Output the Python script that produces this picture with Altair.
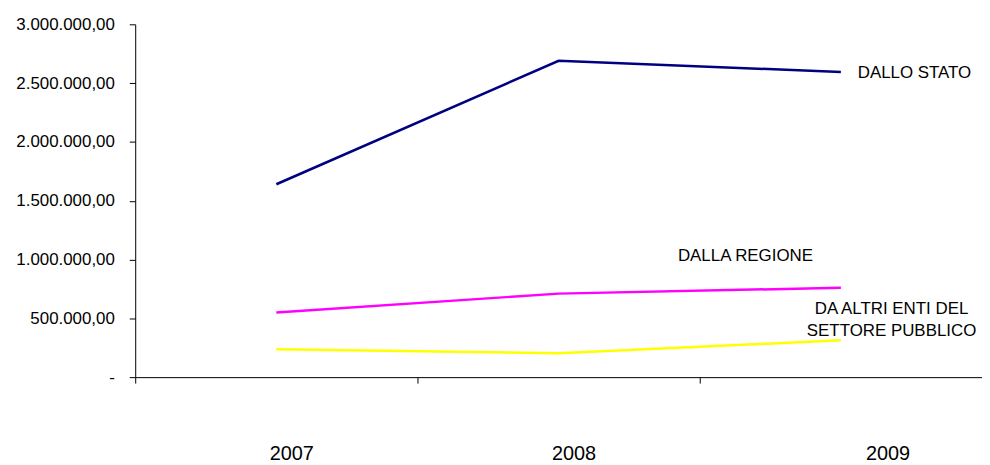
import altair as alt
import pandas as pd

years = ["2007", "2008", "2009"]
series = ["DALLO STATO", "DALLA REGIONE", "DA ALTRI ENTI DEL SETTORE PUBBLICO"]
label_texts = ["DALLO STATO", "DALLA REGIONE", "DA ALTRI ENTI DEL\nSETTORE PUBBLICO"]
stato = [1640000, 2690000, 2595000]
regione = [550000, 710000, 760000]
altri = [237000, 203000, 313000]
colors = ["#000080", "#FF00FF", "#FFFF00"]
y_ticks = [0, 500000, 1000000, 1500000, 2000000, 2500000, 3000000]

rows = []
for name, lab, vals in zip(series, label_texts, [stato, regione, altri]):
    for yr, v in zip(years, vals):
        rows.append({"anno": yr, "serie": name, "etichetta": lab, "valore": v})
df = pd.DataFrame(rows)

FONT = "Liberation Sans"

label_expr = (
    "datum.value == 0 ? '-\u00a0\u00a0\u00a0\u00a0\u00a0' : "
    "replace(replace(replace(format(datum.value, ',.2f'), regexp(',', 'g'), '#'), "
    "regexp('\\\\.', 'g'), ','), regexp('#', 'g'), '.')"
)

x_enc = alt.X(
    "anno:N",
    scale=alt.Scale(type="band", domain=years, paddingInner=0, paddingOuter=0),
    bandPosition=0.5,
    axis=alt.Axis(
        title=None,
        labelAngle=0,
        tickBand="extent",
        tickSize=6,
        tickColor="black",
        domainColor="black",
        labelFont=FONT,
        labelFontSize=20,
        labelColor="black",
        labelPadding=61,
        labelOffset={"condition": {"test": "datum.value == '2009'", "value": 47}, "value": 15},
        grid=False,
    ),
)

y_enc = alt.Y(
    "valore:Q",
    scale=alt.Scale(domain=[0, 3000000], nice=False),
    axis=alt.Axis(
        title=None,
        values=y_ticks,
        labelExpr=label_expr,
        tickSize=6,
        tickColor="black",
        domainColor="black",
        labelFont=FONT,
        labelFontSize=17,
        labelColor="black",
        labelPadding=15,
        grid=False,
    ),
)

base = alt.Chart(df)

lines = base.mark_line(strokeWidth=2.5).encode(
    x=x_enc,
    y=y_enc,
    color=alt.Color("serie:N", scale=alt.Scale(domain=series, range=colors), legend=None),
    detail="serie:N",
)

def label_layer(name, dx, dy, align):
    return (
        base.transform_filter((alt.datum.serie == name) & (alt.datum.anno == "2009"))
        .mark_text(
            font=FONT,
            fontSize=17,
            color="black",
            align=align,
            baseline="middle",
            dx=dx,
            dy=dy,
            lineBreak="\n",
            lineHeight=22,
        )
        .encode(x=alt.X("anno:N", bandPosition=0.5), y="valore:Q", text="etichetta:N")
    )

chart = (
    alt.layer(
        lines,
        label_layer(series[0], 17, 1, "left"),
        label_layer(series[1], -96, -32, "center"),
        label_layer(series[2], 51, -31, "center"),
    )
    .properties(
        width=852,
        height=355,
        padding={"left": 128, "top": 15, "right": 0, "bottom": 87},
        autosize=alt.AutoSizeParams(type="none"),
    )
    .configure_view(stroke=None)
)

chart.save("out.html", embed_options={"renderer": "svg", "actions": False})
